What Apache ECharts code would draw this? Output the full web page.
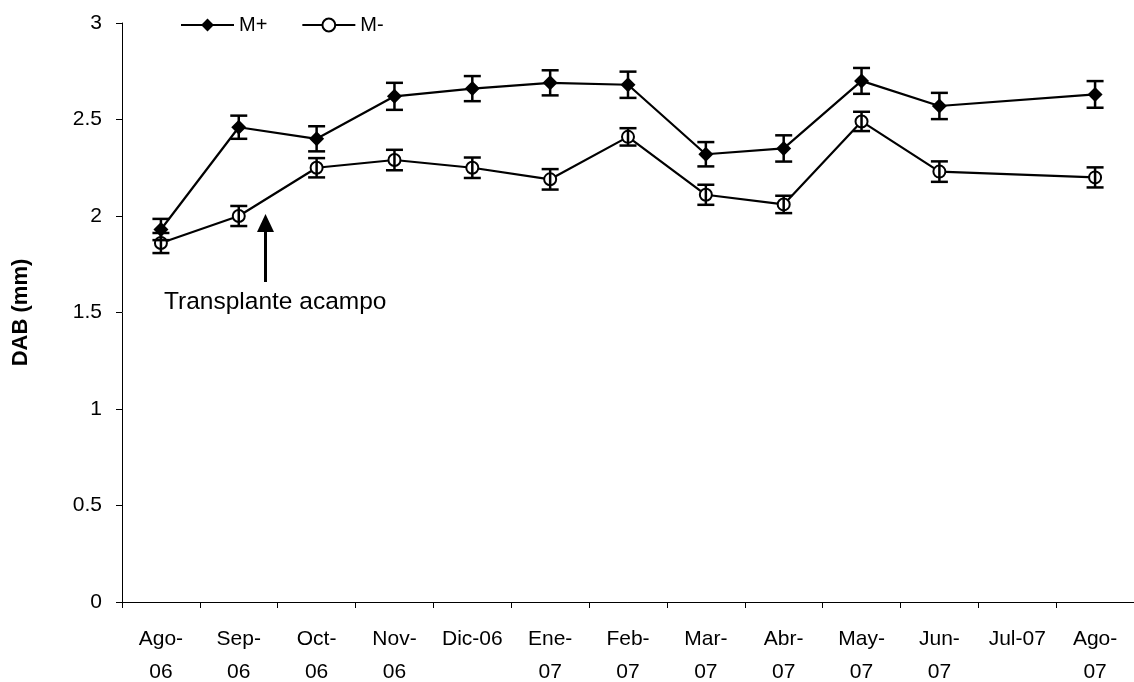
<!DOCTYPE html>
<html>
<head>
<meta charset="utf-8">
<script src="https://cdn.jsdelivr.net/npm/echarts@6/dist/echarts.min.js"></script>
<style>html,body{margin:0;padding:0;background:#fff}#c{width:1134px;height:682px}</style>
</head>
<body>
<div id="c"></div>
<script>
var categories = ['Ago-06','Sep-06','Oct-06','Nov-06','Dic-06','Ene-07','Feb-07','Mar-07','Abr-07','May-07','Jun-07','Jul-07','Ago-07'];
var tickLabels = ['Ago-\n06','Sep-\n06','Oct-\n06','Nov-\n06','Dic-06','Ene-\n07','Feb-\n07','Mar-\n07','Abr-\n07','May-\n07','Jun-\n07','Jul-07','Ago-\n07'];
var mPlus = [1.93, 2.46, 2.40, 2.62, 2.66, 2.69, 2.68, 2.32, 2.35, 2.70, 2.57, null, 2.63];
var mPlusErr = [0.055, 0.06, 0.065, 0.07, 0.065, 0.065, 0.068, 0.063, 0.068, 0.067, 0.068, null, 0.069];
var mMinus = [1.86, 2.00, 2.25, 2.29, 2.25, 2.19, 2.41, 2.11, 2.06, 2.49, 2.23, null, 2.20];
var mMinusErr = [0.052, 0.052, 0.05, 0.053, 0.053, 0.053, 0.045, 0.052, 0.045, 0.05, 0.053, null, 0.052];
var yTicks = [0, 0.5, 1, 1.5, 2, 2.5, 3];

function errData(vals, errs) {
  var out = [];
  for (var i = 0; i < vals.length; i++) {
    if (vals[i] != null) out.push([i, vals[i] - errs[i], vals[i] + errs[i]]);
  }
  return out;
}
function errRender(params, api) {
  var x = api.value(0);
  var lo = api.coord([x, api.value(1)]);
  var hi = api.coord([x, api.value(2)]);
  var hw = 8.5;
  var st = {stroke: '#000', lineWidth: 2.5};
  return {type: 'group', children: [
    {type: 'line', shape: {x1: lo[0], y1: lo[1], x2: hi[0], y2: hi[1]}, style: st},
    {type: 'line', shape: {x1: lo[0]-hw, y1: lo[1], x2: lo[0]+hw, y2: lo[1]}, style: st},
    {type: 'line', shape: {x1: hi[0]-hw, y1: hi[1], x2: hi[0]+hw, y2: hi[1]}, style: st}
  ]};
}

var chart = echarts.init(document.getElementById('c'));
var font = '"Liberation Sans", Arial, sans-serif';
chart.setOption({
  animation: false,
  textStyle: {fontFamily: font},
  grid: {left: 122, right: 0, top: 23, bottom: 80, containLabel: false, outerBoundsMode: 'none'},
  legend: {
    left: 175, top: 10, itemWidth: 53, itemHeight: 16, itemGap: 34,
    textStyle: {fontSize: 20, color: '#000', fontFamily: font},
    data: ['M+', 'M-']
  },
  xAxis: {
    type: 'category', data: categories, boundaryGap: true,
    axisLine: {lineStyle: {color: '#000', width: 1}},
    axisTick: {show: true, length: 6, alignWithLabel: false, lineStyle: {color: '#000'}},
    axisLabel: {
      color: '#000', fontSize: 21, lineHeight: 33, margin: 21, interval: 0, fontFamily: font,
      formatter: function (v, i) { return tickLabels[i]; }
    },
    splitLine: {show: false}
  },
  yAxis: {
    type: 'value', min: yTicks[0], max: yTicks[yTicks.length-1], interval: 0.5,
    name: 'DAB (mm)', nameLocation: 'middle', nameGap: 90, nameRotate: 90,
    nameTextStyle: {fontSize: 22, fontWeight: 'bold', color: '#000', fontFamily: font},
    axisLine: {show: true, lineStyle: {color: '#000', width: 1}},
    axisTick: {show: true, length: 6, lineStyle: {color: '#000'}},
    axisLabel: {color: '#000', fontSize: 21, margin: 20, fontFamily: font},
    splitLine: {show: false}
  },
  series: [
    {name: 'M+', type: 'line', data: mPlus, connectNulls: true, symbol: 'diamond', symbolSize: 15,
     lineStyle: {color: '#000', width: 2.2}, itemStyle: {color: '#000'}, z: 3},
    {name: 'M-', type: 'line', data: mMinus, connectNulls: true, symbol: 'emptyCircle', symbolSize: 12,
     lineStyle: {color: '#000', width: 2.2}, itemStyle: {color: '#000', borderWidth: 2, borderColor: '#000'}, z: 3},
    {type: 'custom', data: errData(mPlus, mPlusErr), renderItem: errRender, z: 5, silent: true},
    {type: 'custom', data: errData(mMinus, mMinusErr), renderItem: errRender, z: 5, silent: true}
  ],
  graphic: [
    {type: 'line', shape: {x1: 265.5, y1: 282, x2: 265.5, y2: 228}, style: {stroke: '#000', lineWidth: 3}},
    {type: 'polygon', shape: {points: [[265.5, 214], [257, 232], [274, 232]]}, style: {fill: '#000'}},
    {type: 'text', left: 164, top: 290, style: {text: 'Transplante acampo', fontSize: 24.5, fill: '#000', fontFamily: font}}
  ]
});
</script>
</body>
</html>
